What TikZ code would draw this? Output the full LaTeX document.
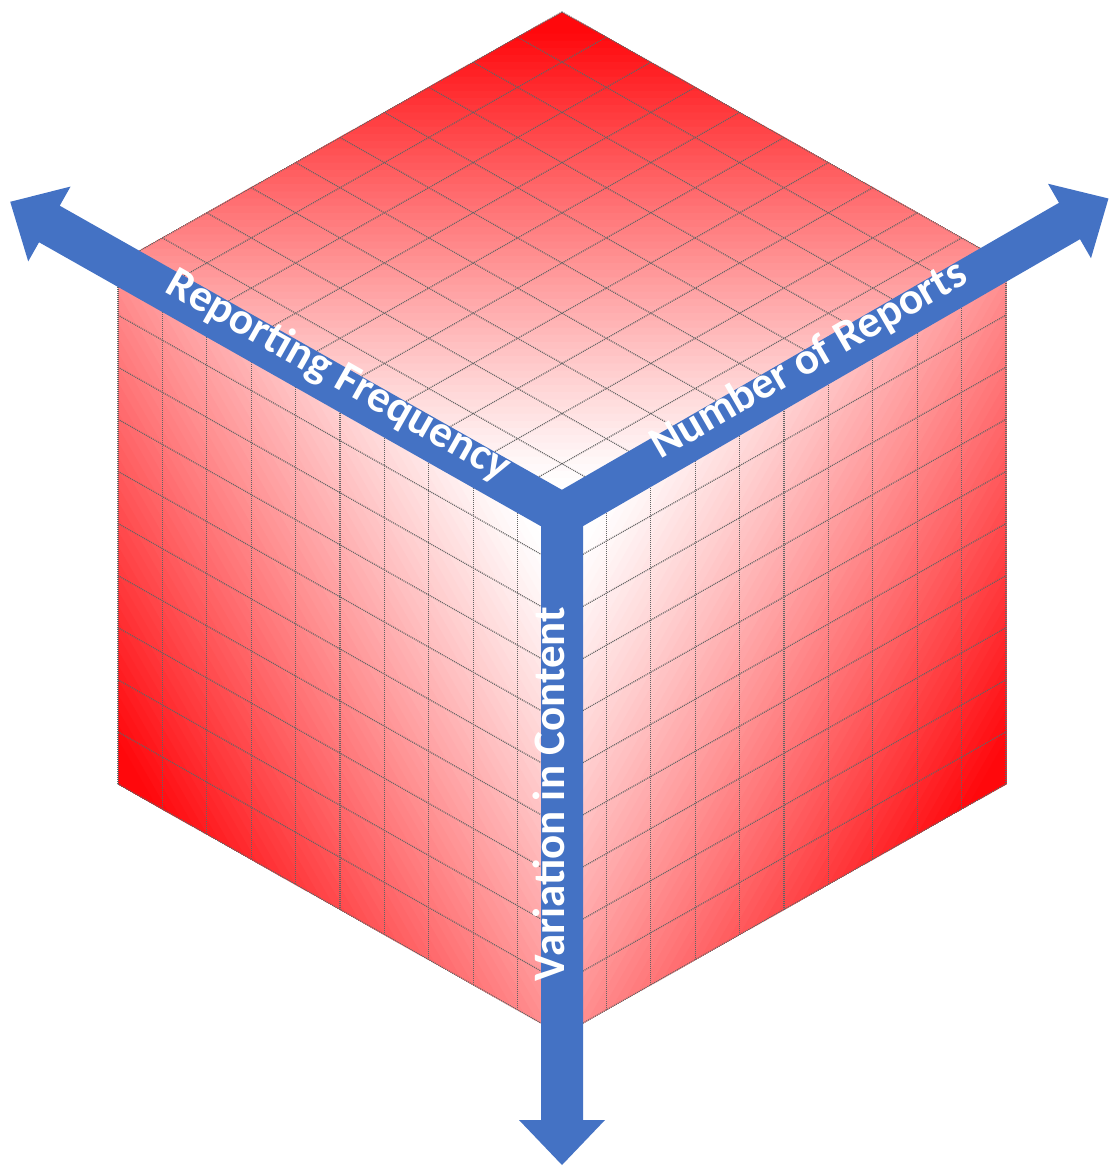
\documentclass[tikz,border=0pt]{standalone}
\usepackage{fontspec}
\setmainfont{Carlito}
\definecolor{cubered}{RGB}{255,8,12}
\definecolor{arrowblue}{RGB}{68,114,196}
\definecolor{gridgray}{RGB}{100,100,100}
\tikzset{
  gridline/.style={draw=gridgray, line width=1.2pt, dash pattern=on 1pt off 1pt},
  axisarrow/.style={fill=arrowblue},
  axislabel/.style={text=white, font=\fontsize{45}{54}\selectfont\bfseries, inner sep=0pt, anchor=mid},
}
% redness (0..100) from a parameter t in [0,1]
\newcommand{\redpct}[1]{%
  \pgfmathsetmacro{\pp}{100*(max(0,min(1,(#1-0.06)/0.9)))^1.15}}
\begin{document}
\begin{tikzpicture}[x=1pt,y=-1pt]
\useasboundingbox (0,0) rectangle (1110,1167);
\fill[white] (0,0) rectangle (1110,1167);
\def\N{70}
% ---------- top face ----------
\begin{scope}[shift={(562,12)}, x={(444pt,-251pt)}, y={(-444pt,-251pt)}]
  \begin{scope}
    \clip (0,0) -- (1,0) -- (1,1) -- (0,1) -- cycle;
    \foreach \k in {0,...,69}{
      \pgfmathsetmacro{\s}{2*\k/\N}
      \redpct{1-(\k+0.5)/\N}
      \fill[cubered!\pp!white] (-1,\s+1) -- (3,\s-3) -- (3,1) -- (-1,5) -- cycle;
    }
  \end{scope}
  \foreach \i in {0,...,10}{
    \draw[gridline] (\i/10,0) -- (\i/10,1);
    \draw[gridline] (0,\i/10) -- (1,\i/10);
  }
\end{scope}
% ---------- left face ----------
\begin{scope}[shift={(118,263)}, x={(444pt,-251pt)}, y={(0pt,-521pt)}]
  \begin{scope}
    \clip (0,0) -- (1,0) -- (1,1) -- (0,1) -- cycle;
    \foreach \k in {0,...,69}{
      \pgfmathsetmacro{\c}{-1+2*\k/\N}
      \redpct{(\k+0.5)/\N}
      \fill[cubered!\pp!white] (-2,-2+\c) -- (3,3+\c) -- (3,8) -- (-2,8) -- cycle;
    }
  \end{scope}
  \foreach \i in {0,...,10}{
    \draw[gridline] (\i/10,0) -- (\i/10,1);
    \draw[gridline] (0,\i/10) -- (1,\i/10);
  }
\end{scope}
% ---------- right face ----------
\begin{scope}[shift={(562,514)}, x={(444pt,251pt)}, y={(0pt,-521pt)}]
  \begin{scope}
    \clip (0,0) -- (1,0) -- (1,1) -- (0,1) -- cycle;
    \foreach \k in {0,...,69}{
      \pgfmathsetmacro{\s}{2*\k/\N}
      \redpct{(\k+0.5)/\N}
      \fill[cubered!\pp!white] (-1,\s+1) -- (3,\s-3) -- (3,1) -- (-1,5) -- cycle;
    }
  \end{scope}
  \foreach \i in {0,...,10}{
    \draw[gridline] (\i/10,0) -- (\i/10,1);
    \draw[gridline] (0,\i/10) -- (1,\i/10);
  }
\end{scope}
% ---------- axes ----------
\coordinate (C) at (562,514);
\foreach \ang/\len in {150.5/634, 30/631, -90/651}{
  \begin{scope}[shift={(C)}, rotate=\ang]
    \fill[axisarrow] (-20,-21) -- (\len-45,-21) -- (\len-45,-43) -- (\len,0)
      -- (\len-45,43) -- (\len-45,21) -- (-20,21) -- cycle;
  \end{scope}
}
\node[axislabel, rotate=-29.5] (freq) at (333.5,384.7) {Reporting Frequency};
\node[axislabel, rotate=30] (num) at (814,368.5) {Number of Reports};
\node[axislabel, rotate=90] (var) at (562,794) {Variation in Content};
\end{tikzpicture}
\end{document}
